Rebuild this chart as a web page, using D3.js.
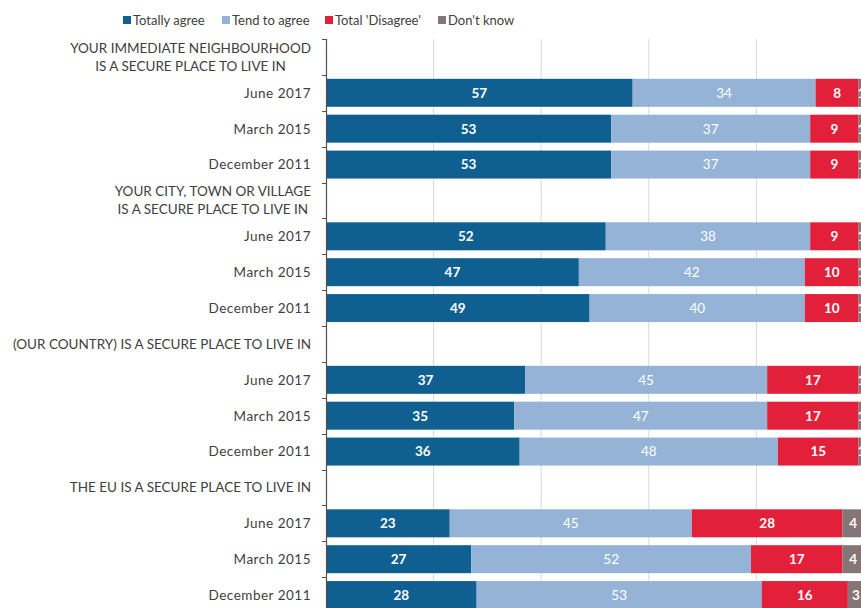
<!DOCTYPE html>
<html><head><meta charset="utf-8">
<script src="https://cdn.jsdelivr.net/npm/d3@7/dist/d3.min.js"></script>
<style>
html,body{margin:0;padding:0;background:#fff;overflow:hidden}
svg{display:block;font-family:Lato,"Open Sans",sans-serif}
</style></head>
<body><svg id="c" width="861" height="608"></svg>
<script>
const groups = [
  ["YOUR IMMEDIATE NEIGHBOURHOOD", "IS A SECURE PLACE TO LIVE IN"],
  ["YOUR CITY, TOWN OR VILLAGE", "IS A SECURE PLACE TO LIVE IN"],
  ["(OUR COUNTRY) IS A SECURE PLACE TO LIVE IN"],
  ["THE EU IS A SECURE PLACE TO LIVE IN"]
];
const periods = ["June 2017", "March 2015", "December 2011"];
const seriesNames = ["Totally agree", "Tend to agree", "Total 'Disagree'", "Don't know"];
const totallyAgree = [57, 53, 53, 52, 47, 49, 37, 35, 36, 23, 27, 28];
const tendToAgree  = [34, 37, 37, 38, 42, 40, 45, 47, 48, 45, 52, 53];
const totalDisagree = [8, 9, 9, 9, 10, 10, 17, 17, 15, 28, 17, 16];
const dontKnow     = [1, 1, 1, 1, 1, 1, 1, 1, 1, 4, 4, 3];
const gridTicks = [20, 40, 60, 80, 100];

const colors = ["#0f5f91", "#95b3d7", "#e3203a", "#857577"];
const labelWeight = ["bold", "normal", "bold", "bold"];
const seriesVals = [totallyAgree, tendToAgree, totalDisagree, dontKnow];

(function () {
const rows = [];
groups.forEach((g, gi) => {
  rows.push({key: "t" + gi, type: "title", lines: g});
  periods.forEach((p, pi) => {
    const i = gi * periods.length + pi;
    rows.push({key: "r" + i, type: "bar", label: p, vals: seriesVals.map(s => s[i])});
  });
});

const svg = d3.select("#c");
const x = d3.scaleLinear().domain([0, 100]).range([326, 864]);
const y = d3.scaleBand().domain(rows.map(r => r.key)).range([39, 613]).paddingInner(0.22).paddingOuter(0.11);
const step = y.step();
const yTop = 39;

// gridlines
svg.append("g").selectAll("line").data(gridTicks).join("line")
  .attr("x1", d => x(d)).attr("x2", d => x(d))
  .attr("y1", yTop).attr("y2", 608)
  .attr("stroke", "#d9d9d9").attr("stroke-width", 1);

// bars
const barRows = rows.filter(r => r.type === "bar");
const gBars = svg.append("g");
barRows.forEach(r => {
  let acc = 0;
  r.vals.forEach((v, si) => {
    const x0 = acc, x1 = acc + v;
    acc = x1;
    gBars.append("rect")
      .attr("x", x(x0)).attr("width", x(x1) - x(x0))
      .attr("y", y(r.key)).attr("height", y.bandwidth())
      .attr("fill", colors[si]);
    gBars.append("text")
      .attr("x", (x(x0) + x(x1)) / 2)
      .attr("y", y(r.key) + y.bandwidth() / 2)
      .attr("dy", "0.36em")
      .attr("text-anchor", "middle")
      .attr("fill", "#fff")
      .attr("font-size", 13.5)
      .attr("font-weight", labelWeight[si])
      .text(v);
  });
});

// axis line + ticks at band boundaries
const axisColor = "#5a4e4e";
svg.append("line").attr("x1", 326.5).attr("x2", 326.5).attr("y1", yTop).attr("y2", 613)
  .attr("stroke", axisColor).attr("stroke-width", 1.2);
const bounds = d3.range(rows.length + 1).map(i => yTop + i * step);
svg.append("g").selectAll("line").data(bounds).join("line")
  .attr("x1", 322).attr("x2", 326.5)
  .attr("y1", d => Math.round(d) + 0.5).attr("y2", d => Math.round(d) + 0.5)
  .attr("stroke", axisColor).attr("stroke-width", 1);

// category labels
const labColor = "#404040";
const gLab = svg.append("g").attr("font-size", 13.5).attr("fill", labColor);
rows.forEach(r => {
  const cy = y(r.key) + y.bandwidth() / 2;
  if (r.type === "bar") {
    gLab.append("text").attr("x", 311).attr("y", cy).attr("dy", "0.36em")
      .attr("letter-spacing", 0.5)
      .attr("text-anchor", "end").text(r.label);
  } else {
    const t = gLab.append("text").attr("text-anchor", "middle");
    const n = r.lines.length;
    const lh = 18;
    r.lines.forEach((ln, li) => {
      t.append("tspan").attr("y", cy + (li - (n - 1) / 2) * lh).attr("dy", "0.36em").text(ln);
    });
    let maxW = 0;
    t.selectAll("tspan").each(function () { maxW = Math.max(maxW, this.getComputedTextLength()); });
    const cx = 311 - maxW / 2;
    t.selectAll("tspan").attr("x", cx);
  }
});

// legend
const legX = [123, 222, 325, 438];
const gLeg = svg.append("g").attr("font-size", 13).attr("fill", labColor);
seriesNames.forEach((n, i) => {
  gLeg.append("rect").attr("x", legX[i]).attr("y", 16).attr("width", 8).attr("height", 8).attr("fill", colors[i]);
  gLeg.append("text").attr("x", legX[i] + 10).attr("y", 20.5).attr("dy", "0.36em").text(n);
});
})();
</script></body></html>
